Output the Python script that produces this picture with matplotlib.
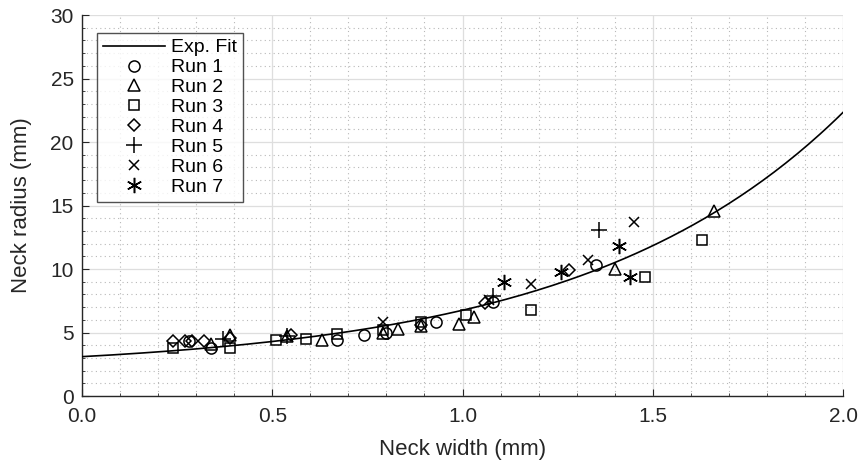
import numpy as np
import matplotlib
matplotlib.use("Agg")
import matplotlib.pyplot as plt
from matplotlib.ticker import MultipleLocator, FormatStrFormatter

plt.rcParams['font.family'] = ['Liberation Sans', 'DejaVu Sans']

# exponential fit y = FIT_C + FIT_A * exp(FIT_B * x)
FIT_A = 1.12
FIT_B = 1.45
FIT_C = 1.98

run1_x = [0.28, 0.34, 0.67, 0.74, 0.80, 0.93, 1.08, 1.35]
run1_y = [4.3, 3.8, 4.4, 4.8, 5.0, 5.8, 7.4, 10.3]
run2_x = [0.34, 0.39, 0.54, 0.63, 0.79, 0.83, 0.89, 0.99, 1.03, 1.40, 1.66]
run2_y = [4.1, 4.8, 4.7, 4.4, 5.0, 5.3, 5.5, 5.7, 6.2, 10.0, 14.6]
run3_x = [0.24, 0.39, 0.51, 0.59, 0.67, 0.79, 0.89, 1.01, 1.18, 1.48, 1.63]
run3_y = [3.8, 3.8, 4.4, 4.5, 4.9, 5.2, 5.8, 6.4, 6.8, 9.4, 12.3]
run4_x = [0.24, 0.27, 0.29, 0.32, 0.39, 0.55, 0.89, 1.06, 1.28]
run4_y = [4.3, 4.3, 4.3, 4.3, 4.6, 4.8, 5.6, 7.3, 9.9]
run5_x = [0.37, 0.54, 1.08, 1.36]
run5_y = [4.5, 4.7, 7.9, 13.1]
run6_x = [0.79, 1.07, 1.18, 1.33, 1.45]
run6_y = [5.8, 7.6, 8.8, 10.7, 13.7]
run7_x = [1.11, 1.26, 1.41, 1.44]
run7_y = [9.0, 9.8, 11.8, 9.4]

runs = [
    ("Run 1", run1_x, run1_y, "o", 8),
    ("Run 2", run2_x, run2_y, "^", 9),
    ("Run 3", run3_x, run3_y, "s", 7),
    ("Run 4", run4_x, run4_y, "D", 6.5),
    ("Run 5", run5_x, run5_y, "+", 11),
    ("Run 6", run6_x, run6_y, "x", 7),
    ("Run 7", run7_x, run7_y, (6, 2, 0), 11),
]

fig = plt.figure(figsize=(8.62, 4.70), dpi=100)
ax = fig.add_axes([0.0951, 0.1574, 0.8829, 0.8106])

xfit = np.linspace(0, 2, 200)
ax.plot(xfit, FIT_C + FIT_A * np.exp(FIT_B * xfit), color="black", lw=1.2,
        label="Exp. Fit", zorder=3)

for name, xs, ys, mk, ms in runs:
    filled = mk in ("+", "x") or isinstance(mk, tuple)
    ax.plot(xs, ys, linestyle="none", marker=mk, markersize=ms,
            markerfacecolor="black" if filled else "none",
            markeredgecolor="black", markeredgewidth=1.1, label=name, zorder=4)

ax.set_xlim(0, 2)
ax.set_ylim(0, 30)
ax.xaxis.set_major_locator(MultipleLocator(0.5))
ax.xaxis.set_minor_locator(MultipleLocator(0.1))
ax.yaxis.set_major_locator(MultipleLocator(5))
ax.yaxis.set_minor_locator(MultipleLocator(1))
ax.xaxis.set_major_formatter(FormatStrFormatter("%.1f"))

ax.grid(which="major", color="#dedede", linestyle="-", linewidth=0.9, zorder=0)
ax.grid(which="minor", color="#b8b8b8", linestyle=(0, (1, 3)), linewidth=0.8, zorder=0)
ax.set_axisbelow(True)

for side in ("top", "right"):
    ax.spines[side].set_visible(False)
for side in ("left", "bottom"):
    ax.spines[side].set_color("#262626")
    ax.spines[side].set_linewidth(1.0)

ax.tick_params(which="major", direction="in", length=5, width=0.8,
               labelsize=15, colors="#262626")
ax.tick_params(which="minor", direction="in", length=2.5, width=0.6,
               colors="#262626")
ax.tick_params(axis="x", which="major", pad=8)
ax.tick_params(axis="y", which="major", pad=6)

ax.set_xlabel("Neck width (mm)", fontsize=16, color="#262626", labelpad=9)
ax.set_ylabel("Neck radius (mm)", fontsize=16, color="#262626", labelpad=13)

leg = ax.legend(loc="upper left", bbox_to_anchor=(0.02, 0.953), borderaxespad=0,
                fontsize=14, frameon=True, fancybox=False, edgecolor="#262626",
                handlelength=3.2, labelspacing=0.12, borderpad=0.3,
                handletextpad=0.3)
leg.get_frame().set_linewidth(1.0)

fig.savefig("out.png", dpi=100)
